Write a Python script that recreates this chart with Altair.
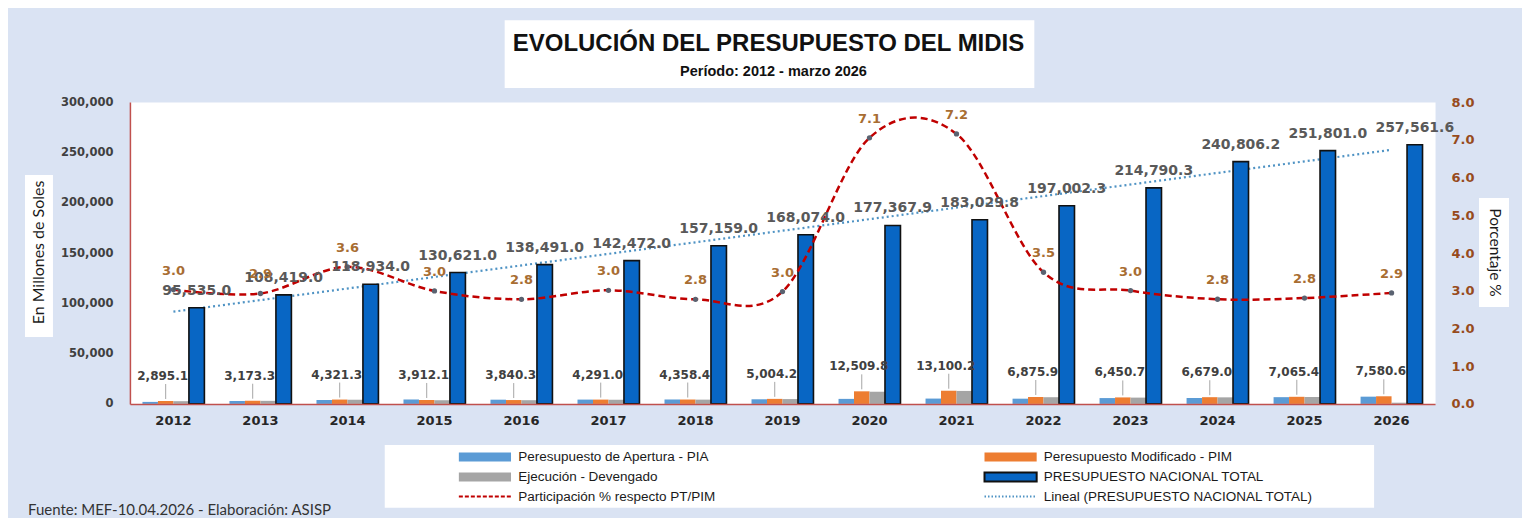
import altair as alt
import pandas as pd

# ---------------- data ----------------
years = ["2012", "2013", "2014", "2015", "2016", "2017", "2018", "2019",
         "2020", "2021", "2022", "2023", "2024", "2025", "2026"]
pia = [2000.0, 2900.0, 3900.0, 4400.0, 4200.0, 4290.0, 4400.0, 4600.0,
       5000.0, 5300.0, 5200.0, 5800.0, 5900.0, 6700.0, 7200.0]
pim = [2895.1, 3173.3, 4321.3, 3912.1, 3840.3, 4291.0, 4358.4, 5004.2,
       12509.8, 13100.2, 6875.9, 6450.7, 6679.0, 7065.4, 7580.6]
dev = [2700.0, 3050.0, 4150.0, 3650.0, 3700.0, 4130.0, 4240.0, 4800.0,
       12100.0, 12900.0, 6650.0, 6260.0, 6520.0, 6880.0, 1200.0]
pt = [95535.0, 108419.0, 118934.0, 130621.0, 138491.0, 142472.0, 157159.0, 168074.0,
      177367.9, 183029.8, 197002.3, 214790.3, 240806.2, 251801.0, 257561.6]
pct = [3.030, 2.927, 3.633, 2.995, 2.773, 3.012, 2.773, 2.977,
       7.053, 7.157, 3.490, 3.003, 2.774, 2.806, 2.943]

N_PIA = "Peresupuesto de Apertura - PIA"
N_PIM = "Peresupuesto Modificado - PIM"
N_DEV = "Ejecución - Devengado"
N_PT = "PRESUPUESTO NACIONAL TOTAL"
N_PART = "Participación % respecto PT/PIM"
N_LIN = "Lineal (PRESUPUESTO NACIONAL TOTAL)"
serie_names = [N_PIA, N_PIM, N_DEV, N_PT]
# legend is laid out column by column (3 rows x 2 columns)
legend_names = [N_PIA, N_DEV, N_PART, N_PIM, N_PT, N_LIN]

# ---------------- styles ----------------
C_PIA, C_PIM, C_DEV, C_PT = "#5b9bd5", "#ed7d31", "#a5a5a5", "#0866c4"
C_RED, C_TREND = "#c00000", "#4f93c4"
legend_colors = [C_PIA, C_DEV, C_RED, C_PIM, C_PT, C_TREND]
BG = "#dae3f3"
NUM_FONT = "DejaVu Sans"
NARROW = "Liberation Sans Narrow, Liberation Sans, Arial, sans-serif"
HUMAN = "Lato"

rows = []
for i, y in enumerate(years):
    for name, arr in zip(serie_names, [pia, pim, dev, pt]):
        rows.append({"year": y, "serie": name, "value": arr[i]})
bars_df = pd.DataFrame(rows)
line_df = pd.DataFrame({"year": years, "yr": [int(y) for y in years], "pt": pt, "pct": pct})
one = pd.DataFrame({"k": [0]})

xscale = alt.Scale(paddingInner=0.288, paddingOuter=0.144)
xaxis = alt.Axis(labelAngle=0, labelFont=NUM_FONT, labelFontWeight="bold", labelFontSize=13,
                 labelColor="#262626", ticks=False, tickSize=0, domainColor="#c0504d",
                 domainWidth=1.5, labelPadding=11, grid=False, zindex=1)


def X():
    return alt.X("year:N", scale=xscale, axis=xaxis, title=None)


def XO():
    return alt.XOffset("serie:N", sort=serie_names,
                       scale=alt.Scale(domain=serie_names, paddingInner=0, paddingOuter=0))


left_scale = alt.Scale(domain=[0, 300000], nice=False)
right_scale = alt.Scale(domain=[0, 8], nice=False)

left_axis = alt.Axis(values=[0, 50000, 100000, 150000, 200000, 250000, 300000], format=",.0f",
                     labelFont=NUM_FONT, labelFontWeight="bold", labelFontSize=11.5,
                     labelColor="#404040", ticks=False, tickSize=0, labelPadding=17,
                     grid=False, domainColor="#c0504d", domainWidth=1.5,
                     title="En Millones de Soles", titleFont=HUMAN, titleFontWeight="normal",
                     titleFontSize=16, titleColor="#1a1a1a", titleX=-91, titleY=150,
                     titleAlign="center", titleBaseline="middle", titleAngle=270, zindex=1)
right_axis = alt.Axis(orient="right", values=[0, 1, 2, 3, 4, 5, 6, 7, 8], format=".1f",
                      labelFont=NUM_FONT, labelFontWeight="bold", labelFontSize=13,
                      labelColor="#974b1c", ticks=False, tickSize=0, labelPadding=16,
                      grid=False, domain=False,
                      title="Porcentaje %", titleFont=HUMAN, titleFontWeight="normal",
                      titleFontSize=15.5, titleColor="#1a1a1a", titleX=59, titleY=150,
                      titleAlign="center", titleBaseline="middle", titleAngle=90, zindex=1)

IS_LINE = f"(datum.value == '{N_PART}' || datum.value == '{N_LIN}')"
RECT_PATH = "M-5.8,-1H5.8V1H-5.8Z"
LINE_PATH = "M-5.8,0H5.8"
legend = alt.Legend(
    orient="none", legendX=348.5, legendY=348, columns=2, title=None, padding=0,
    columnPadding=264, rowPadding=2.5, labelOffset=26.5, symbolOffset=0,
    symbolSize=81, symbolStrokeWidth=2, labelFont=NARROW, labelFontSize=13.5,
    labelColor="#1a1a1a", labelLimit=400, zindex=1,
    symbolType={"expr": f"{IS_LINE} ? '{LINE_PATH}' : '{RECT_PATH}'"},
    symbolStrokeColor={"expr": f"datum.value == '{N_PT}' ? '#111111' : "
                               f"(datum.value == '{N_PART}' ? '{C_RED}' : "
                               f"(datum.value == '{N_LIN}' ? '{C_TREND}' : 'transparent'))"},
    symbolDash={"expr": f"datum.value == '{N_PART}' ? [4, 2] : "
                        f"(datum.value == '{N_LIN}' ? [1.5, 2] : [1, 0])"},
)

# ---------------- decorations (boxes / texts) ----------------
def box(x1, x2, y1, y2):
    return alt.Chart(one).mark_rect(fill="white").encode(
        x=alt.value(x1), x2=alt.value(x2), y=alt.value(y1), y2=alt.value(y2))


title_box = box(375, 905, -82, -14)
legend_box = box(255, 1245, 343, 406)
ltitle_box = box(-105, -77, 73, 235)
rtitle_box = box(1350, 1380, 96, 205)

title = alt.Chart(one).mark_text(
    text="EVOLUCIÓN DEL PRESUPUESTO DEL MIDIS", font=NARROW, fontSize=24, fontWeight="bold",
    color="#111111", align="center", baseline="middle").encode(x=alt.value(639), y=alt.value(-58))
subtitle = alt.Chart(one).mark_text(
    text="Período: 2012 - marzo 2026", font=NARROW, fontSize=14.5, fontWeight="bold",
    color="#111111", align="center", baseline="middle").encode(x=alt.value(644), y=alt.value(-30))
footer = alt.Chart(one).mark_text(
    text="Fuente:  MEF-10.04.2026 - Elaboración: ASISP", font=HUMAN, fontSize=15,
    color="#333333", align="left", baseline="middle").encode(x=alt.value(-102), y=alt.value(408))

# ---------------- data layers ----------------
trend = alt.Chart(line_df).transform_regression(
    "yr", "pt", method="linear", as_=["yr", "pt"]
).transform_filter("datum.yr % 1 == 0").transform_calculate(
    year="toString(datum.yr)"
).mark_line(color=C_TREND, strokeWidth=2.2, strokeDash=[2, 3]).encode(
    x=X(), y=alt.Y("pt:Q", scale=left_scale, axis=None))

bars = alt.Chart(bars_df).mark_bar().encode(
    x=X(), xOffset=XO(),
    y=alt.Y("value:Q", scale=left_scale, axis=left_axis),
    color=alt.Color("serie:N", scale=alt.Scale(domain=legend_names, range=legend_colors),
                    legend=legend),
)

pt_outline = alt.Chart(bars_df).transform_filter(
    alt.datum.serie == N_PT
).mark_bar(fill="transparent", stroke="#111111", strokeWidth=1.6).encode(
    x=X(), xOffset=XO(),
    y=alt.Y("value:Q", scale=left_scale, axis=None))

pim_rule = alt.Chart(bars_df).transform_filter(
    alt.datum.serie == N_PIM
).mark_rule(color="#a6a6a6", strokeWidth=1, yOffset=-2, y2Offset=-17).encode(
    x=X(), xOffset=XO(),
    y=alt.Y("value:Q", scale=left_scale, axis=None), y2="value:Q")

pim_lab = alt.Chart(bars_df).transform_filter(
    alt.datum.serie == N_PIM
).mark_text(dy=-25, dx=-3, font=NUM_FONT, fontSize=12, fontWeight="bold", color="#404040").encode(
    x=X(), xOffset=XO(),
    y=alt.Y("value:Q", scale=left_scale, axis=None),
    text=alt.Text("value:Q", format=",.1f"))

pt_lab = alt.Chart(bars_df).transform_filter(
    alt.datum.serie == N_PT
).mark_text(dy=-17, font=NUM_FONT, fontSize=14, fontWeight="bold", color="#595959").encode(
    x=X(), xOffset=XO(),
    y=alt.Y("value:Q", scale=left_scale, axis=None),
    text=alt.Text("value:Q", format=",.1f"))

pct_line = alt.Chart(line_df).mark_line(
    interpolate="cardinal", color=C_RED, strokeWidth=2.5, strokeDash=[7, 4]).encode(
    x=X(), y=alt.Y("pct:Q", scale=right_scale, axis=right_axis))

pct_pts = alt.Chart(line_df).mark_circle(size=28, color="#5a6270", opacity=1).encode(
    x=X(), y=alt.Y("pct:Q", scale=right_scale, axis=None))

pct_lab = alt.Chart(line_df).mark_text(
    dy=-19, font=NUM_FONT, fontSize=13, fontWeight="bold", color="#a86d32").encode(
    x=X(), y=alt.Y("pct:Q", scale=right_scale, axis=None),
    text=alt.Text("pct:Q", format=".1f"))

chart = alt.layer(
    title_box, legend_box, ltitle_box, rtitle_box,
    trend, bars, pt_outline, pct_line, pct_pts, pim_rule, pim_lab, pt_lab, pct_lab,
    title, subtitle, footer,
).resolve_scale(y="independent").properties(
    width=1306, height=302,
    padding={"left": 122, "top": 94, "right": 87, "bottom": 114},
    autosize=alt.AutoSizeParams(type="none"),
    background=BG,
).configure_view(fill="white", stroke="transparent")

chart.save("out.html", embed_options={"renderer": "svg", "actions": False})
